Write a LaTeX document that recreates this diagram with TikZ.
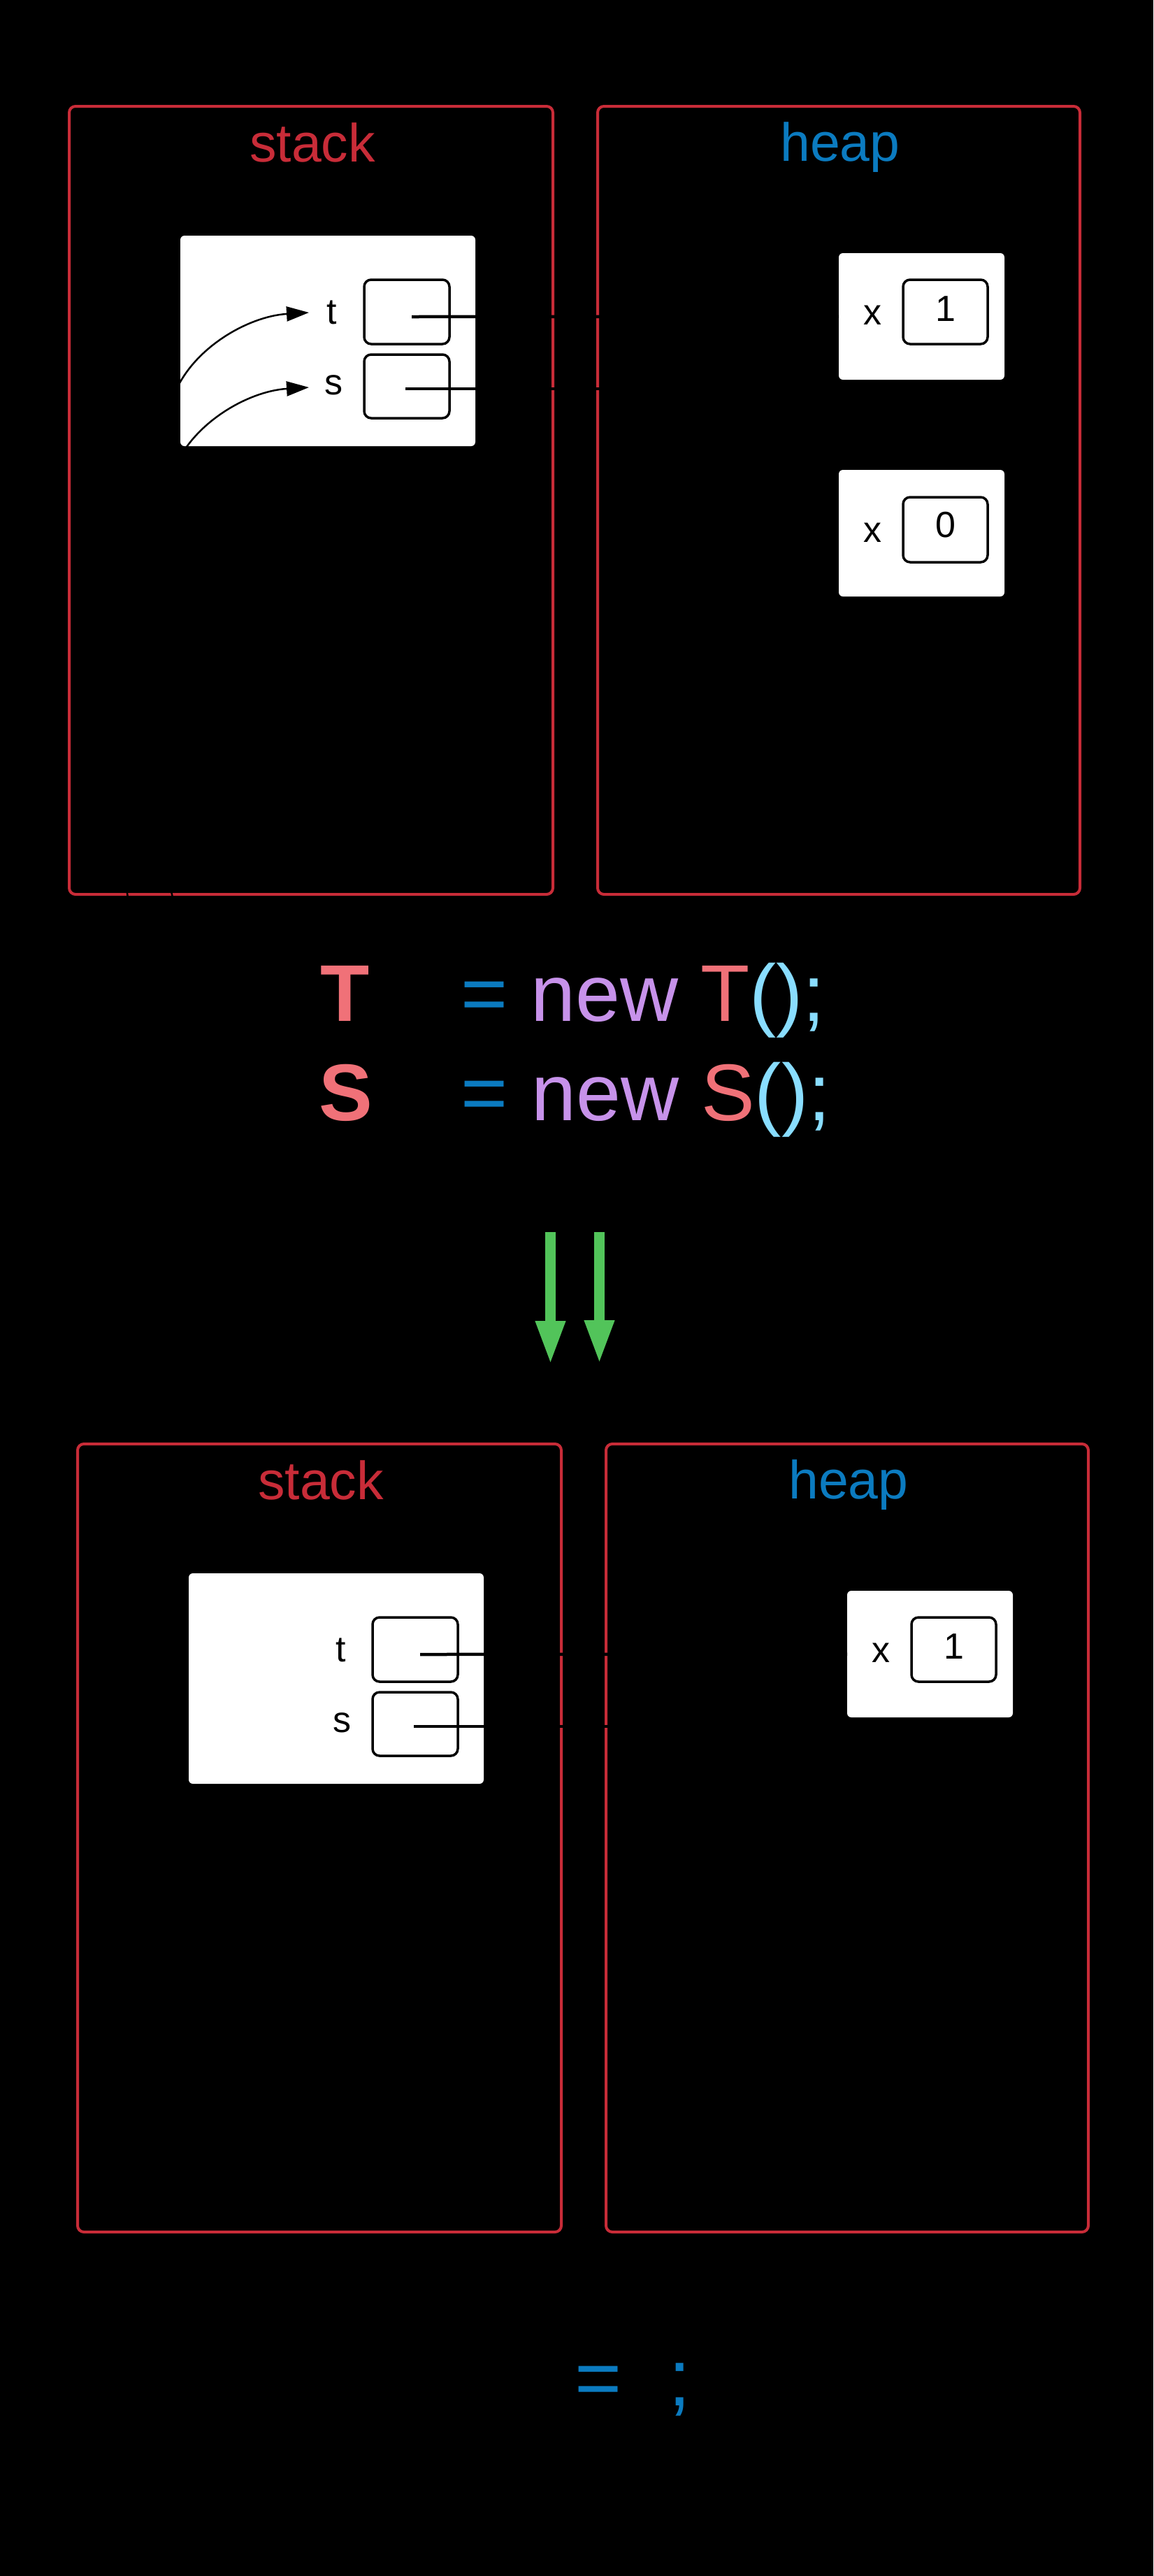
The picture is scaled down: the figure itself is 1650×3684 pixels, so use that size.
\documentclass[tikz,border=0pt]{standalone}
\usepackage{fontspec}
\setmainfont{Liberation Sans}
\usetikzlibrary{arrows.meta}
\definecolor{memred}{RGB}{200,44,56}
\definecolor{heapblue}{RGB}{11,123,192}
\definecolor{coral}{RGB}{240,113,120}
\definecolor{lilac}{RGB}{199,146,234}
\definecolor{skyc}{RGB}{137,221,255}
\definecolor{flowgreen}{RGB}{82,196,90}
\begin{document}
\begin{tikzpicture}[x=1pt,y=-1pt,
  region/.style={draw=memred,line width=4pt,rounded corners=9pt,inner sep=0pt,outer sep=0pt,
                 minimum width=#1,minimum height=1127pt},
  frame/.style={fill=white,rounded corners=6pt,inner sep=0pt,outer sep=0pt,
                minimum width=422pt,minimum height=301pt},
  object/.style={fill=white,rounded corners=6pt,inner sep=0pt,outer sep=0pt,
                 minimum width=237pt,minimum height=181pt},
  slot/.style={draw=black,fill=white,line width=3.5pt,rounded corners=10pt,inner sep=0pt,outer sep=0pt,
               minimum width=122pt,minimum height=92pt},
  title/.style={inner sep=0pt,anchor=base,font=\fontsize{77}{90}\selectfont},
  fieldtxt/.style={inner sep=0pt,anchor=base,font=\fontsize{52}{60}\selectfont},
  code/.style={inner sep=0pt,anchor=base west,font=\fontsize{115}{138}\selectfont},
  boldcode/.style={inner sep=0pt,anchor=base west,font=\fontsize{115}{138}\selectfont\bfseries},
  ref/.style={draw=black,line width=4.5pt},
  link/.style={draw=black,line width=2.5pt,-{Triangle[length=32pt,width=21pt]}},
  flow/.style={draw=flowgreen,line width=15pt,-{Triangle[length=63pt,width=39pt]}}]

% canvas
\fill[black] (0,0) rectangle (1650,3684);
\useasboundingbox (0,0) rectangle (1650,3684);

% ---------- first state ----------
\node[region=692pt] (stackA) at (445,715.5) {};
\node[region=690pt] (heapA) at (1200,715.5) {};
\node[title,text=memred] (stackAlab) at (447,231) {stack};
\node[title,text=heapblue] (heapAlab) at (1202,230) {heap};

% stack frame with the two locals
\node[frame] (frameA) at (469,487.5) {};
\node[slot] (tslotA) at (582,446) {};
\node[slot,minimum height=91pt] (sslotA) at (582,552.5) {};
\node[fieldtxt] (tlabA) at (475,463) {t};
\node[fieldtxt] (slabA) at (477,564) {s};

% heap objects
\node[object] (objA1) at (1318.5,452.5) {};
\node[slot,minimum width=121pt] (valA1) at (1352.5,446) {};
\node[fieldtxt] (xA1) at (1248,464) {x};
\node[fieldtxt] (vA1) at (1353,459) {1};

\node[object] (objA2) at (1318.5,762.5) {};
\node[slot,minimum width=121pt,minimum height=93pt] (valA2) at (1352.5,757.5) {};
\node[fieldtxt] (xA2) at (1248,775) {x};
\node[fieldtxt] (vA2) at (1353,768) {0};

% references from the locals into the heap
\coordinate (trefA) at (589,453);
\coordinate (srefA) at (580,556);
\coordinate (sbendA) at (1120,556);
\draw[ref] (trefA) -- (objA1.west);
\draw[ref] (srefA) -- (sbendA) |- (objA2.west);

% declarations pointing at the locals
\coordinate (tfoot) at (252,1300);
\coordinate (ttip) at (442,447);
\coordinate (sfoot) at (187,1300);
\coordinate (stip) at (442,554);
\draw[link] (tfoot) .. controls (228,1240) and (162,714) .. (258,546)
                    .. controls (290,490) and (360,452) .. (ttip);
\draw[link] (sfoot) .. controls (167,1250) and (162,821) .. (258,653)
                    .. controls (290,597) and (360,559) .. (stip);

% ---------- code ----------
\node[boldcode,text=coral] (declT) at (458,1460) {T};
\node[code,text=heapblue] (eqT) at (659.5,1460) {=};
\node[code] (newT) at (759,1460) {\textcolor{lilac}{new} \textcolor{coral}{T}\textcolor{skyc}{();}};

\node[boldcode,text=coral] (declS) at (456,1602) {S};
\node[code,text=heapblue] (eqS) at (659.5,1602) {=};
\node[code] (newS) at (760,1602) {\textcolor{lilac}{new} \textcolor{coral}{S}\textcolor{skyc}{();}};

% ---------- transition ----------
\coordinate (g1a) at (787.5,1762);
\coordinate (g1b) at (787.5,1952);
\coordinate (g2a) at (857.5,1762);
\coordinate (g2b) at (857.5,1951);
\draw[flow] (g1a) -- (g1b);
\draw[flow] (g2a) -- (g2b);

% ---------- second state ----------
\node[region=692pt] (stackB) at (457,2628.5) {};
\node[region=690pt] (heapB) at (1212,2628.5) {};
\node[title,text=memred] (stackBlab) at (459,2144) {stack};
\node[title,text=heapblue] (heapBlab) at (1214,2143) {heap};

\node[frame] (frameB) at (481,2400.5) {};
\node[slot] (tslotB) at (594,2359) {};
\node[slot,minimum height=91pt] (sslotB) at (594,2465.5) {};
\node[fieldtxt] (tlabB) at (488,2376) {t};
\node[fieldtxt] (slabB) at (489,2477) {s};

\node[object] (objB1) at (1330.5,2365.5) {};
\node[slot,minimum width=121pt] (valB1) at (1364.5,2359) {};
\node[fieldtxt] (xB1) at (1260,2377) {x};
\node[fieldtxt] (vB1) at (1365,2372) {1};

\coordinate (trefB) at (601,2366);
\coordinate (srefB) at (592,2469);
\coordinate (sbendB) at (1132,2469);
\draw[ref] (trefB) -- (objB1.west);
\draw[ref] (srefB) -- (sbendB) |- (objB1.west);

% assignment
\node[code,text=heapblue] (eqAssign) at (822.5,3440) {=};
\node[code,text=heapblue] (semiAssign) at (956,3440) {;};

\end{tikzpicture}
\end{document}
